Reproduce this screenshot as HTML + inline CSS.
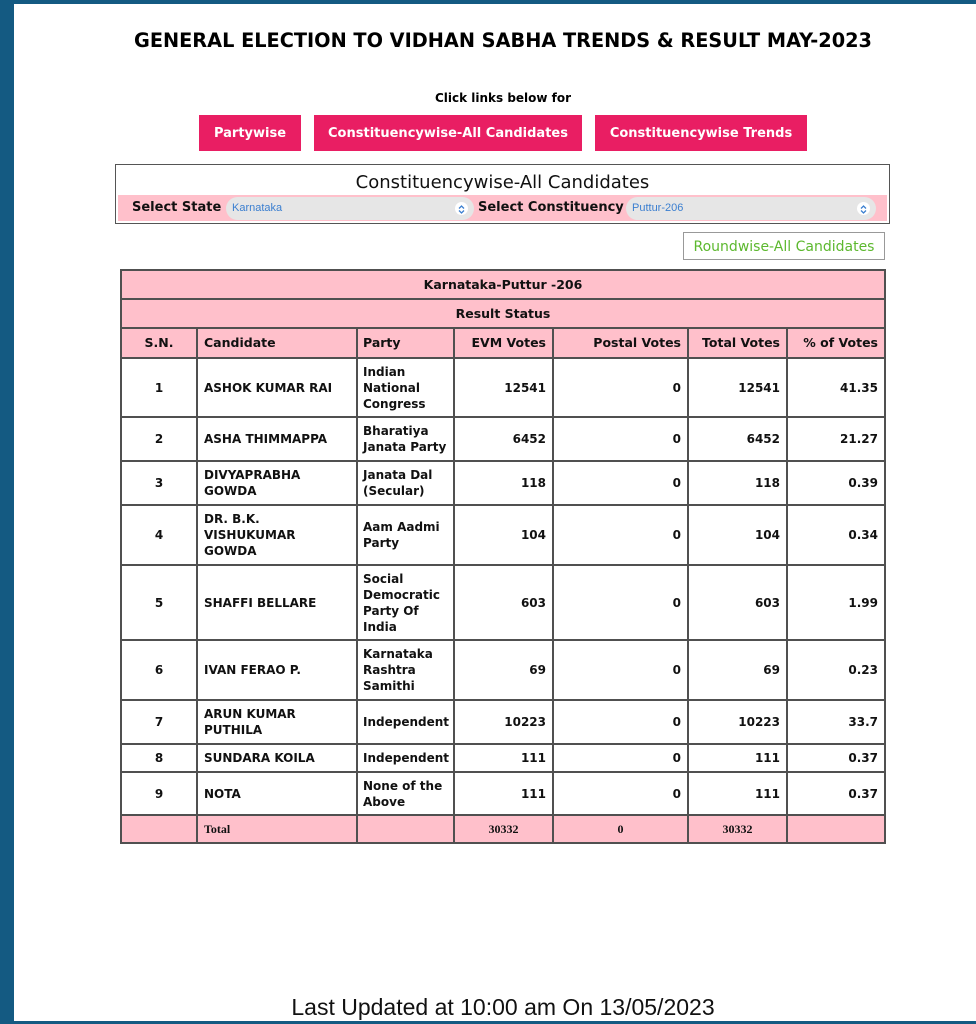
<!DOCTYPE html>
<html><head><meta charset="utf-8"><style>
*{box-sizing:border-box;margin:0;padding:0}
html,body{width:976px;height:1024px;overflow:hidden;background:#fff}
body{position:relative;font-family:"DejaVu Sans","Liberation Sans",sans-serif;color:#000}
.abs{position:absolute}
.bl{background:#145a82}
.title{left:14px;width:978px;top:29px;text-align:center;font-weight:bold;font-size:19.3px;line-height:23px;color:#000;white-space:nowrap}
.click{left:14px;width:978px;top:91px;text-align:center;font-weight:bold;font-size:12px;line-height:14px}
.btn{background:#e91e63;color:#fff;font-weight:bold;font-size:13px;display:flex;align-items:center;justify-content:center;top:115px;height:36px}
.box{left:115px;top:164px;width:775px;height:60px;border:1px solid #555}
.boxt{left:0;width:773px;top:7px;text-align:center;font-size:18px;line-height:22px;color:#111}
.pinkrow{left:2px;top:30px;width:769px;height:26px;background:#ffc0cb}
.lab{font-weight:bold;font-size:13px;line-height:16px;top:5px;color:#111}
.sel{top:2px;height:23px;background:#e6e6e6;border-radius:12px;font-family:"Liberation Sans",sans-serif;font-size:11px;color:#3b7fd0;padding-left:6px;line-height:23px}
.arr{position:absolute;right:6px;top:5px;width:13px;height:13px;border-radius:7px;background:#fff}
.round{left:683px;top:232px;width:202px;height:28px;border:1px solid #999;color:#5cb82e;font-size:14px;display:flex;align-items:center;justify-content:center;padding-top:2px}
.grid{left:120px;top:269px;width:766px;display:grid;background:#505050;padding:2px;gap:2px;
grid-template-columns:74px 158px 95px 97px 133px 97px 96px;
grid-template-rows:27px 27px 28px 57px 42px 42px 58px 73px 58px 42px 26px 41px 26px}
.c{background:#fff;display:flex;align-items:center;padding:0 6px;font-weight:bold;font-size:12px;line-height:16px;color:#111;white-space:nowrap;overflow:visible}
.p{background:#ffc0cb}
.full{grid-column:1/-1;justify-content:center;font-size:12.5px}
.h{font-size:12.5px}
.ctr{justify-content:center}
.r{justify-content:flex-end;text-align:right}
.t{font-family:"Liberation Serif",serif;font-size:12px}
.pt{padding-left:5px;padding-right:0}
.foot{left:14px;width:978px;top:994px;text-align:center;font-family:"Liberation Sans",sans-serif;font-size:23px;line-height:27px;color:#111}
</style></head><body>
<div class="abs bl" style="left:0;top:0;width:976px;height:4px"></div>
<div class="abs bl" style="left:0;top:0;width:14px;height:1024px"></div>
<div class="abs bl" style="left:0;top:1021px;width:976px;height:3px"></div>

<div class="abs title">GENERAL ELECTION TO VIDHAN SABHA TRENDS &amp; RESULT MAY-2023</div>
<div class="abs click">Click links below for</div>
<div class="abs btn" style="left:199px;width:102px">Partywise</div>
<div class="abs btn" style="left:314px;width:268px">Constituencywise-All Candidates</div>
<div class="abs btn" style="left:595px;width:212px">Constituencywise Trends</div>

<div class="abs box">
  <div class="abs boxt">Constituencywise-All Candidates</div>
  <div class="abs pinkrow">
    <div class="abs lab" style="left:14px">Select State</div>
    <div class="abs sel" style="left:108px;width:248px">Karnataka<span class="arr"><svg width="13" height="13" viewBox="0 0 13 13"><path d="M4 5.5 L6.5 3 L9 5.5 M4 7.5 L6.5 10 L9 7.5" fill="none" stroke="#3b7fd0" stroke-width="1.3"/></svg></span></div>
    <div class="abs lab" style="left:360px">Select Constituency</div>
    <div class="abs sel" style="left:508px;width:250px">Puttur-206<span class="arr"><svg width="13" height="13" viewBox="0 0 13 13"><path d="M4 5.5 L6.5 3 L9 5.5 M4 7.5 L6.5 10 L9 7.5" fill="none" stroke="#3b7fd0" stroke-width="1.3"/></svg></span></div>
  </div>
</div>

<div class="abs round">Roundwise-All Candidates</div>

<div class="abs grid">
  <div class="c p full">Karnataka-Puttur -206</div>
  <div class="c p full">Result Status</div>
  <div class="c p h ctr">S.N.</div><div class="c p h">Candidate</div><div class="c p h pt">Party</div><div class="c p h r">EVM Votes</div><div class="c p h r">Postal Votes</div><div class="c p h r">Total Votes</div><div class="c p h r">% of Votes</div>

  <div class="c ctr">1</div><div class="c">ASHOK KUMAR RAI</div><div class="c pt">Indian<br>National<br>Congress</div><div class="c r">12541</div><div class="c r">0</div><div class="c r">12541</div><div class="c r">41.35</div>
  <div class="c ctr">2</div><div class="c">ASHA THIMMAPPA</div><div class="c pt">Bharatiya<br>Janata Party</div><div class="c r">6452</div><div class="c r">0</div><div class="c r">6452</div><div class="c r">21.27</div>
  <div class="c ctr">3</div><div class="c">DIVYAPRABHA<br>GOWDA</div><div class="c pt">Janata Dal<br>(Secular)</div><div class="c r">118</div><div class="c r">0</div><div class="c r">118</div><div class="c r">0.39</div>
  <div class="c ctr">4</div><div class="c">DR. B.K.<br>VISHUKUMAR<br>GOWDA</div><div class="c pt">Aam Aadmi<br>Party</div><div class="c r">104</div><div class="c r">0</div><div class="c r">104</div><div class="c r">0.34</div>
  <div class="c ctr">5</div><div class="c">SHAFFI BELLARE</div><div class="c pt">Social<br>Democratic<br>Party Of<br>India</div><div class="c r">603</div><div class="c r">0</div><div class="c r">603</div><div class="c r">1.99</div>
  <div class="c ctr">6</div><div class="c">IVAN FERAO P.</div><div class="c pt">Karnataka<br>Rashtra<br>Samithi</div><div class="c r">69</div><div class="c r">0</div><div class="c r">69</div><div class="c r">0.23</div>
  <div class="c ctr">7</div><div class="c">ARUN KUMAR<br>PUTHILA</div><div class="c pt">Independent</div><div class="c r">10223</div><div class="c r">0</div><div class="c r">10223</div><div class="c r">33.7</div>
  <div class="c ctr">8</div><div class="c">SUNDARA KOILA</div><div class="c pt">Independent</div><div class="c r">111</div><div class="c r">0</div><div class="c r">111</div><div class="c r">0.37</div>
  <div class="c ctr">9</div><div class="c">NOTA</div><div class="c pt">None of the<br>Above</div><div class="c r">111</div><div class="c r">0</div><div class="c r">111</div><div class="c r">0.37</div>

  <div class="c p"></div><div class="c p t">Total</div><div class="c p"></div><div class="c p t ctr">30332</div><div class="c p t ctr">0</div><div class="c p t ctr">30332</div><div class="c p"></div>
</div>

<div class="abs foot">Last Updated at 10:00 am On 13/05/2023</div>
</body></html>
